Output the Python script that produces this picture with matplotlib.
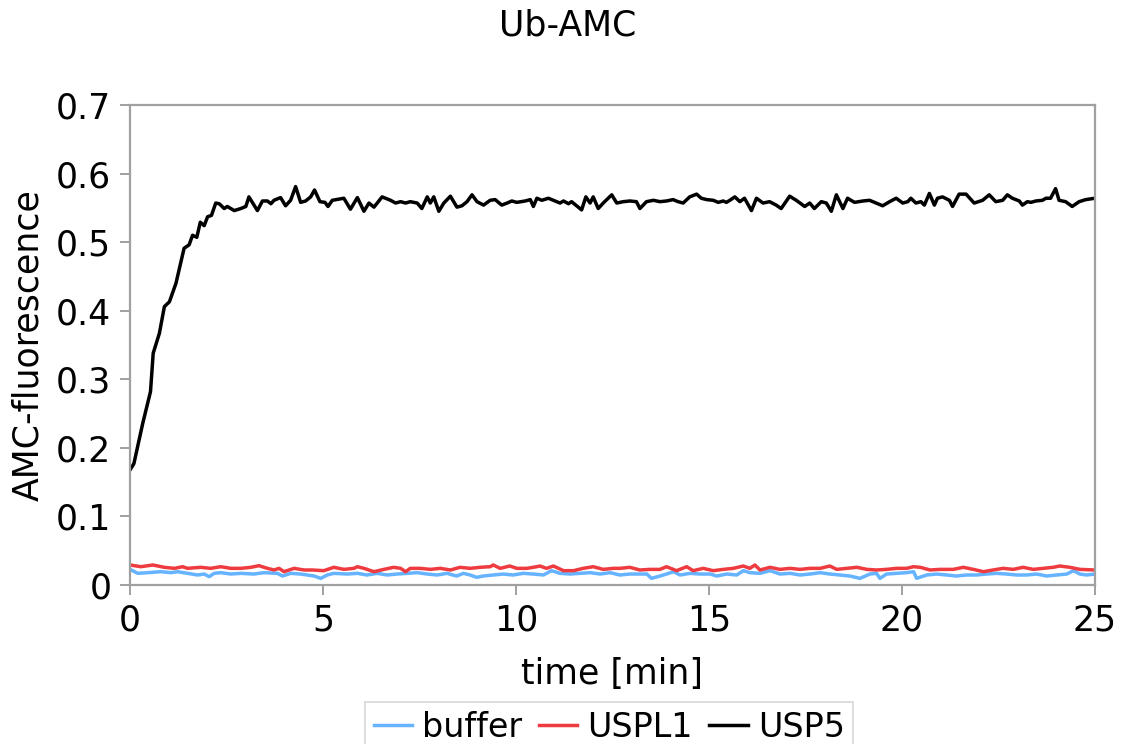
import matplotlib
matplotlib.use("Agg")
import matplotlib.pyplot as plt
from matplotlib.ticker import FuncFormatter

# USP5 (black)
usp5_t = [0.0, 0.1, 0.33, 0.53, 0.60, 0.76, 0.89, 1.02, 1.19, 1.40, 1.53, 1.62, 1.73,
          1.82, 1.92, 2.01, 2.11, 2.22, 2.31, 2.44, 2.52, 2.70, 2.87, 3.00, 3.08, 3.30,
          3.43, 3.56, 3.65, 3.73, 3.90, 4.03, 4.16, 4.29, 4.42, 4.55, 4.68, 4.78, 4.92,
          5.05, 5.13, 5.24, 5.54, 5.71, 5.89, 6.06, 6.19, 6.32, 6.53, 6.75, 6.88, 7.01,
          7.14, 7.26, 7.44, 7.56, 7.70, 7.78, 7.87, 8.00, 8.13, 8.30, 8.47, 8.60, 8.73,
          8.86, 8.99, 9.16, 9.33, 9.46, 9.63, 9.77, 9.89, 10.02, 10.24, 10.37, 10.45,
          10.54, 10.67, 10.84, 10.97, 11.14, 11.23, 11.36, 11.44, 11.70, 11.81, 11.92,
          12.00, 12.13, 12.26, 12.48, 12.61, 12.78, 12.95, 13.12, 13.21, 13.38, 13.56,
          13.73, 13.90, 14.07, 14.20, 14.33, 14.50, 14.68, 14.80, 14.94, 15.11, 15.24,
          15.37, 15.45, 15.54, 15.67, 15.80, 15.92, 16.10, 16.23, 16.40, 16.57, 16.74,
          16.87, 17.09, 17.26, 17.48, 17.61, 17.73, 17.91, 18.04, 18.17, 18.30, 18.47,
          18.59, 18.77, 18.99, 19.16, 19.33, 19.50, 19.68, 19.85, 20.02, 20.15, 20.23,
          20.36, 20.49, 20.58, 20.71, 20.84, 20.92, 21.05, 21.23, 21.31, 21.48, 21.66,
          21.87, 22.09, 22.26, 22.43, 22.61, 22.73, 22.86, 23.04, 23.12, 23.25, 23.34,
          23.47, 23.64, 23.73, 23.85, 23.98, 24.07, 24.24, 24.41, 24.59, 24.76, 25.0]
usp5_v = [0.168, 0.177, 0.236, 0.282, 0.338, 0.367, 0.406, 0.413, 0.440, 0.491, 0.496,
          0.510, 0.507, 0.529, 0.524, 0.537, 0.539, 0.557, 0.556, 0.549, 0.552, 0.546,
          0.549, 0.552, 0.566, 0.546, 0.560, 0.560, 0.556, 0.561, 0.565, 0.553, 0.561,
          0.581, 0.558, 0.560, 0.566, 0.576, 0.559, 0.558, 0.552, 0.561, 0.564, 0.548,
          0.565, 0.545, 0.557, 0.551, 0.566, 0.561, 0.557, 0.559, 0.557, 0.559, 0.557,
          0.549, 0.566, 0.557, 0.566, 0.545, 0.557, 0.567, 0.551, 0.553, 0.559, 0.569,
          0.559, 0.554, 0.561, 0.562, 0.554, 0.557, 0.560, 0.558, 0.560, 0.562, 0.552,
          0.564, 0.561, 0.564, 0.561, 0.557, 0.560, 0.556, 0.559, 0.547, 0.566, 0.557,
          0.566, 0.549, 0.557, 0.569, 0.557, 0.559, 0.560, 0.559, 0.549, 0.559, 0.561,
          0.559, 0.560, 0.562, 0.559, 0.557, 0.566, 0.570, 0.564, 0.562, 0.561, 0.558,
          0.560, 0.558, 0.561, 0.566, 0.559, 0.564, 0.546, 0.564, 0.557, 0.559, 0.554,
          0.549, 0.567, 0.561, 0.552, 0.557, 0.549, 0.559, 0.557, 0.545, 0.569, 0.549,
          0.564, 0.558, 0.560, 0.561, 0.557, 0.553, 0.559, 0.564, 0.557, 0.559, 0.564,
          0.557, 0.559, 0.554, 0.571, 0.554, 0.564, 0.566, 0.561, 0.552, 0.570, 0.570,
          0.557, 0.561, 0.569, 0.559, 0.561, 0.569, 0.564, 0.560, 0.554, 0.559, 0.558,
          0.560, 0.561, 0.564, 0.564, 0.578, 0.561, 0.559, 0.552, 0.559, 0.562, 0.564]

# USPL1 (red)
uspl1_t = [0.0, 0.28, 0.59, 0.89, 1.15, 1.36, 1.49, 1.83, 2.09, 2.35, 2.61, 2.87, 3.13,
           3.34, 3.56, 3.73, 3.86, 3.99, 4.25, 4.51, 4.72, 5.02, 5.28, 5.54, 5.80, 5.89,
           6.06, 6.32, 6.58, 6.83, 7.01, 7.14, 7.26, 7.52, 7.78, 8.04, 8.30, 8.55, 8.81,
           9.07, 9.33, 9.41, 9.59, 9.84, 10.02, 10.28, 10.54, 10.62, 10.79, 10.97, 11.23,
           11.49, 11.74, 12.00, 12.26, 12.52, 12.69, 12.95, 13.21, 13.47, 13.73, 13.90,
           14.16, 14.42, 14.59, 14.85, 15.11, 15.37, 15.63, 15.89, 16.06, 16.19, 16.32,
           16.58, 16.84, 17.10, 17.36, 17.62, 17.88, 18.13, 18.31, 18.57, 18.83, 19.09,
           19.34, 19.60, 19.86, 20.12, 20.30, 20.47, 20.73, 20.98, 21.33, 21.59, 21.85,
           22.11, 22.36, 22.62, 22.88, 23.14, 23.40, 23.66, 23.92, 24.09, 24.35, 24.61, 25.0]
uspl1_v = [0.0292, 0.0267, 0.0292, 0.0258, 0.0243, 0.0267, 0.0243, 0.0258, 0.0243, 0.0267,
           0.0243, 0.0243, 0.0258, 0.0282, 0.0243, 0.0219, 0.0243, 0.0194, 0.0243, 0.0219,
           0.0219, 0.0209, 0.0258, 0.0228, 0.0243, 0.0267, 0.0243, 0.0194, 0.0228, 0.0258,
           0.0243, 0.0194, 0.0243, 0.0243, 0.0228, 0.0243, 0.0219, 0.0258, 0.0243, 0.0258,
           0.0267, 0.0292, 0.0243, 0.0277, 0.0243, 0.0243, 0.0267, 0.0277, 0.0243, 0.0277,
           0.0209, 0.0209, 0.0243, 0.0267, 0.0228, 0.0243, 0.0243, 0.0258, 0.0219, 0.0228,
           0.0228, 0.0267, 0.0209, 0.0267, 0.0209, 0.0243, 0.0209, 0.0228, 0.0243, 0.0277,
           0.0243, 0.0292, 0.0219, 0.0258, 0.0228, 0.0243, 0.0228, 0.0243, 0.0243, 0.0277,
           0.0228, 0.0243, 0.0258, 0.0228, 0.0219, 0.0228, 0.0243, 0.0243, 0.0267, 0.0258,
           0.0219, 0.0228, 0.0228, 0.0258, 0.0228, 0.0194, 0.0219, 0.0243, 0.0228, 0.0258,
           0.0228, 0.0243, 0.0258, 0.0277, 0.0258, 0.0228, 0.0219]

# buffer (light blue)
buffer_t = [0.0, 0.20, 0.46, 0.80, 1.06, 1.23, 1.49, 1.75, 1.92, 2.05, 2.18, 2.35, 2.61,
            2.87, 3.21, 3.47, 3.82, 3.95, 4.16, 4.42, 4.59, 4.77, 4.94, 5.11, 5.28, 5.63,
            5.89, 6.14, 6.40, 6.66, 6.92, 7.18, 7.44, 7.70, 7.96, 8.21, 8.46, 8.64, 8.81,
            8.98, 9.15, 9.41, 9.67, 9.92, 10.19, 10.45, 10.71, 10.92, 11.14, 11.40, 11.66,
            11.92, 12.18, 12.44, 12.69, 12.95, 13.21, 13.39, 13.51, 13.73, 13.90, 14.08,
            14.25, 14.51, 14.77, 15.03, 15.20, 15.46, 15.72, 15.89, 16.06, 16.32, 16.58,
            16.84, 17.10, 17.36, 17.62, 17.88, 18.13, 18.39, 18.65, 18.91, 19.17, 19.34,
            19.43, 19.60, 19.86, 20.12, 20.30, 20.38, 20.64, 20.90, 21.16, 21.41, 21.67,
            21.93, 22.19, 22.45, 22.71, 22.97, 23.23, 23.49, 23.75, 24.01, 24.27, 24.44,
            24.61, 24.78, 25.0]
buffer_v = [0.0228, 0.0170, 0.0180, 0.0194, 0.0180, 0.0194, 0.0170, 0.0146, 0.0160, 0.0122,
            0.0170, 0.0180, 0.0160, 0.0170, 0.0160, 0.0180, 0.0170, 0.0131, 0.0170, 0.0160,
            0.0146, 0.0131, 0.0097, 0.0146, 0.0170, 0.0160, 0.0170, 0.0146, 0.0170, 0.0146,
            0.0160, 0.0170, 0.0180, 0.0160, 0.0146, 0.0170, 0.0131, 0.0170, 0.0146, 0.0112,
            0.0131, 0.0146, 0.0160, 0.0146, 0.0170, 0.0160, 0.0146, 0.0209, 0.0170, 0.0160,
            0.0170, 0.0180, 0.0160, 0.0180, 0.0146, 0.0160, 0.0160, 0.0160, 0.0097, 0.0131,
            0.0160, 0.0194, 0.0146, 0.0170, 0.0160, 0.0160, 0.0131, 0.0160, 0.0146, 0.0209,
            0.0180, 0.0170, 0.0209, 0.0160, 0.0170, 0.0146, 0.0160, 0.0180, 0.0160, 0.0146,
            0.0131, 0.0097, 0.0160, 0.0170, 0.0097, 0.0160, 0.0170, 0.0180, 0.0194, 0.0097,
            0.0146, 0.0160, 0.0146, 0.0131, 0.0146, 0.0146, 0.0160, 0.0170, 0.0160, 0.0146,
            0.0146, 0.0160, 0.0131, 0.0146, 0.0160, 0.0209, 0.0160, 0.0146, 0.0160]

X_TICKS = [0, 5, 10, 15, 20, 25]
Y_TICKS = [0, 0.1, 0.2, 0.3, 0.4, 0.5, 0.6, 0.7]

FS = 25
GRAY = "#a0a0a0"

fig = plt.figure(figsize=(11.22, 7.44), dpi=100)
fig.patch.set_facecolor("white")
ax = fig.add_axes([0.1159, 0.2137, 0.8600, 0.6452])

ax.plot(buffer_t, buffer_v, color="#66b3ff", linewidth=2.5, label="buffer")
ax.plot(uspl1_t, uspl1_v, color="#ee3b40", linewidth=2.5, label="USPL1")
ax.plot(usp5_t, usp5_v, color="black", linewidth=2.5, label="USP5")

ax.set_xlim(0, 25)
ax.set_ylim(0, 0.7)
ax.set_xticks(X_TICKS)
ax.set_yticks(Y_TICKS)
ax.yaxis.set_major_formatter(FuncFormatter(lambda v, _: "0" if v == 0 else f"{v:.1f}"))

for s in ax.spines.values():
    s.set_color(GRAY)
    s.set_linewidth(1.6)
ax.tick_params(direction="out", length=7.5, width=1.4, color=GRAY,
               labelsize=FS, pad=6)

ax.set_xlabel("time [min]", fontsize=FS, labelpad=14)
ax.set_ylabel("AMC-fluorescence", fontsize=FS, labelpad=8)

fig.text(0.506, 0.966, "Ub-AMC", ha="center", va="center", fontsize=FS)

leg = fig.legend(loc="upper center", bbox_to_anchor=(0.543, 0.056), ncol=3,
                 fontsize=FS - 1, frameon=True, fancybox=False, handlelength=1.15,
                 handletextpad=0.3, columnspacing=0.5, borderpad=0.25,
                 borderaxespad=0)
leg.get_frame().set_edgecolor("#cccccc")
leg.get_frame().set_linewidth(1.2)

fig.savefig("out.png", dpi=100, facecolor="white")
